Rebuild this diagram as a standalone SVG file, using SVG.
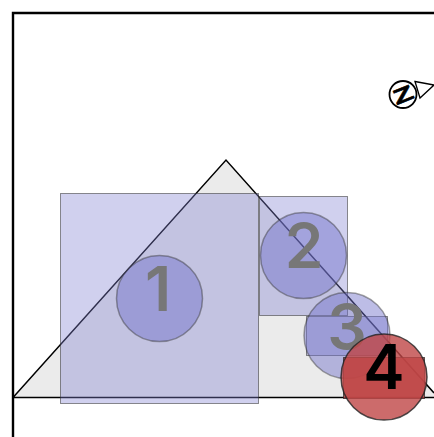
<svg xmlns="http://www.w3.org/2000/svg" width="434" height="437" viewBox="0 0 434 437">
<style>
.r{fill:#8080d0;fill-opacity:.37;stroke:#333;stroke-opacity:.55;stroke-width:1}
.c{fill:#7070c8;fill-opacity:.46;stroke:#333;stroke-opacity:.45;stroke-width:1.5}
.d{font-family:Inter,"Liberation Sans",Arial,sans-serif;font-size:62px;font-weight:600;text-anchor:middle;fill:#777}
</style>
<rect width="434" height="437" fill="#fff"/>
<path d="M13 437V13H434" fill="none" stroke="#000" stroke-width="2.400"/>
<path id="triangle" d="M13 397.500L226 160L434 393V397.500Z" fill="#ebebeb"/>
<path id="outline" d="M13 397.500L226 160L434 393M13 397.500H434" fill="none" stroke="#000" stroke-width="1.500"/>
<g id="compass">
<circle cx="403" cy="94.500" r="13.500" fill="#fff" stroke="#000" stroke-width="1.800"/>
<text transform="translate(403 94.500) rotate(-22) scale(1.5 .95)" y="8" font-family="Liberation Sans,Arial,sans-serif" font-weight="bold" font-size="22" text-anchor="middle" stroke="#000" stroke-width=".6">Z</text>
<path d="M415 81.500L434 85L420 98Z" fill="#fff" stroke="#000" stroke-width="1.300"/>
</g>
<g id="node-1"><rect class="r" x="60.500" y="193.500" width="198" height="210"/><circle class="c" cx="159.500" cy="298.500" r="43"/><text class="d" x="158" y="311">1</text></g>
<g id="node-2"><rect class="r" x="259.500" y="196.500" width="88" height="119"/><circle class="c" cx="303.500" cy="255.500" r="43"/><text class="d" x="304" y="268">2</text></g>
<g id="node-3"><rect class="r" x="306.500" y="316.500" width="81" height="39"/><circle class="c" cx="347" cy="335.500" r="43"/><text class="d" x="347" y="349">3</text></g>
<g id="node-4"><rect x="343.500" y="357.500" width="81" height="41" fill="#bf4646" fill-opacity=".8" stroke="#222" stroke-opacity=".7"/><circle cx="384" cy="377" r="43" fill="#bf4646" fill-opacity=".8" stroke="#222" stroke-opacity=".8" stroke-width="1.500"/><text class="d" x="384" y="389" style="fill:#000">4</text></g>
</svg>
